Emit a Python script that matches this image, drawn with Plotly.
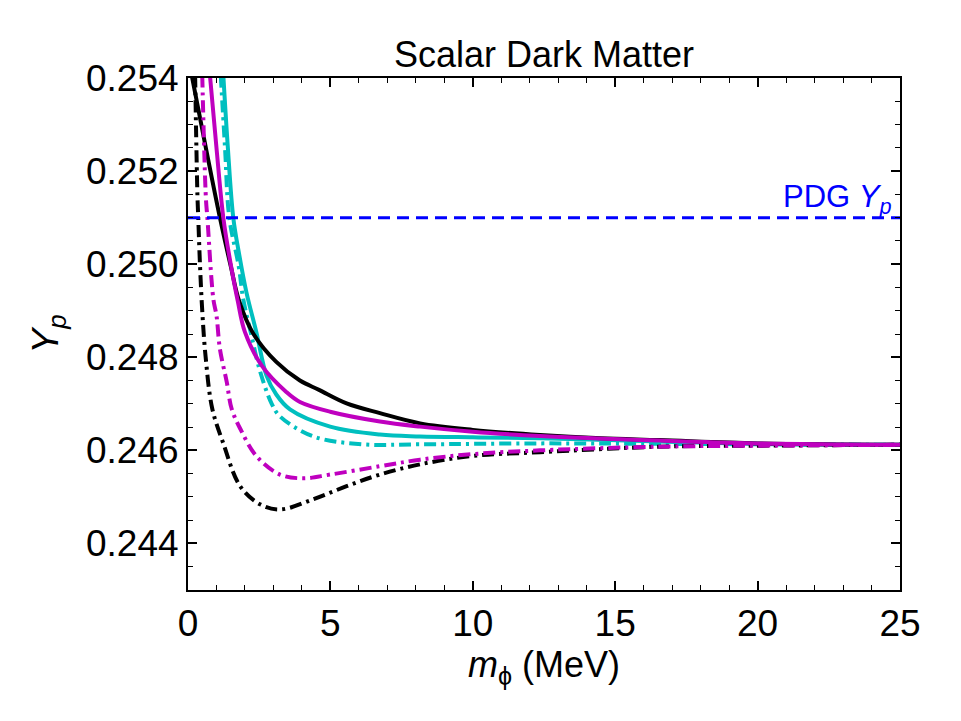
import plotly.graph_objects as go

# ---- data ----
bs_x = [0.13, 0.62, 1.12, 1.5, 1.8, 2.3, 3.1, 3.93, 4.6, 5.57, 6.74, 8.15, 10, 12.36, 14.5, 16.57, 20, 25]
bs_y = [0.25406, 0.25252, 0.2510, 0.24996, 0.2492, 0.2485, 0.2479, 0.2475, 0.2473, 0.24701, 0.2468, 0.24658, 0.24644, 0.24633, 0.24626, 0.24622, 0.24615, 0.24612]

bd_x = [0.25, 0.33, 0.36, 0.42, 0.5, 0.62, 0.85, 1.24, 1.83, 2.53, 3.23, 4.4, 5.57, 6.74, 8.15, 10, 12.36, 16.57, 20, 25]
bd_y = [0.25406, 0.2515, 0.2510, 0.2500, 0.2490, 0.2480, 0.2469, 0.24615, 0.24523, 0.24484, 0.24473, 0.24495, 0.24523, 0.24548, 0.2457, 0.24588, 0.24596, 0.24608, 0.2461, 0.24612]

ms_x = [0.77, 1.0, 1.24, 1.5, 1.75, 2.0, 2.59, 3.46, 3.93, 4.99, 6.74, 8.15, 10, 12.36, 16.57, 20, 25]
ms_y = [0.25406, 0.2525, 0.2510, 0.2500, 0.2492, 0.24854, 0.24782, 0.24725, 0.24704, 0.24683, 0.24662, 0.24651, 0.2464, 0.24631, 0.24621, 0.24615, 0.24612]

md_x = [0.5, 0.63, 0.68, 0.89, 1.0, 1.12, 1.36, 1.53, 1.83, 2.41, 3.23, 4.04, 4.99, 6.74, 8.15, 10, 12.36, 16.57, 20, 25]
md_y = [0.25406, 0.2514, 0.2510, 0.24925, 0.2489, 0.24818, 0.24747, 0.2469, 0.24647, 0.24587, 0.24548, 0.2454, 0.24548, 0.24566, 0.2458, 0.24592, 0.246, 0.24608, 0.2461, 0.24612]

cs_x = [1.24, 1.4, 1.59, 1.8, 2.05, 2.4, 2.76, 3.1, 3.58, 4.99, 6.74, 8.15, 10, 12.36, 16.57, 20, 25]
cs_y = [0.25406, 0.2525, 0.2510, 0.2502, 0.2494, 0.24854, 0.2476, 0.2472, 0.24688, 0.24651, 0.24634, 0.2463, 0.24628, 0.24626, 0.24619, 0.24614, 0.24612]

cd_x = [1.15, 1.3, 1.45, 1.78, 1.94, 2.2, 2.53, 2.94, 3.23, 4.4, 6.15, 8.15, 12.36, 16.57, 25]
cd_y = [0.25406, 0.2525, 0.2510, 0.24996, 0.24925, 0.24854, 0.2477, 0.247, 0.24673, 0.2463, 0.24613, 0.24613, 0.24615, 0.24614, 0.24612]

pdg_x = [0, 25]
pdg_y = [0.251, 0.251]

x_ticks = [0, 5, 10, 15, 20, 25]
y_ticks = [0.244, 0.246, 0.248, 0.250, 0.252, 0.254]

BLACK = "#000000"
MAG = "#bf00bf"
CYAN = "#00bfbf"
DASHDOT = "12px,5px,3px,5px"
FONT = "Liberation Sans, Arial, sans-serif"

fig = go.Figure()

def add(x, y, color, dash):
    fig.add_trace(go.Scatter(x=x, y=y, mode="lines",
                             line=dict(color=color, width=4, dash=dash, shape="spline", smoothing=1.0),
                             showlegend=False, hoverinfo="skip"))

add(cs_x, cs_y, CYAN, "solid")
add(cd_x, cd_y, CYAN, DASHDOT)
add(bs_x, bs_y, BLACK, "solid")
add(bd_x, bd_y, BLACK, DASHDOT)
add(ms_x, ms_y, MAG, "solid")
add(md_x, md_y, MAG, DASHDOT)

fig.add_trace(go.Scatter(x=pdg_x, y=pdg_y, mode="lines",
                         line=dict(color="#0000ff", width=3, dash="12px,7px"),
                         showlegend=False, hoverinfo="skip"))

fig.add_annotation(x=24.78, y=0.251, xref="x", yref="y", text="PDG <i>Y</i><sub><i>p</i></sub>",
                   showarrow=False, xanchor="right", yanchor="bottom", yshift=-3,
                   font=dict(family=FONT, size=31, color="#0000ff"))

axis_common = dict(
    showline=True, linewidth=2, linecolor="black", mirror="ticks",
    ticks="inside", ticklen=9, tickwidth=1.5, tickcolor="black",
    showgrid=False, zeroline=False,
    tickfont=dict(family=FONT, size=37, color="black"),
)

fig.update_xaxes(range=[0, 25], tickvals=x_ticks, ticktext=[str(v) for v in x_ticks],
                 minor=dict(dtick=1, tick0=0, ticks="inside", ticklen=5, tickwidth=1.2, tickcolor="black", showgrid=False),
                 title=dict(text="<i>m</i><sub>ϕ</sub> (MeV)", font=dict(family=FONT, size=36, color="black"), standoff=4),
                 **axis_common)
fig.update_yaxes(range=[0.243, 0.254], tickvals=y_ticks, ticktext=[f"{v:.3f}" for v in y_ticks],
                 minor=dict(dtick=0.0005, tick0=0.243, ticks="inside", ticklen=5, tickwidth=1.2, tickcolor="black", showgrid=False),
                 title=dict(text="<i>Y</i><sub><i>p</i></sub>", font=dict(family=FONT, size=37, color="black"), standoff=16),
                 **axis_common)

fig.update_layout(
    width=961, height=721, autosize=False,
    margin=dict(l=188, r=61, t=78, b=131),
    paper_bgcolor="white", plot_bgcolor="white",
    title=dict(text="Scalar Dark Matter", x=0.566, xanchor="center", y=0.924, yanchor="middle",
               font=dict(family=FONT, size=36, color="black")),
)

fig.write_html("out.html")
